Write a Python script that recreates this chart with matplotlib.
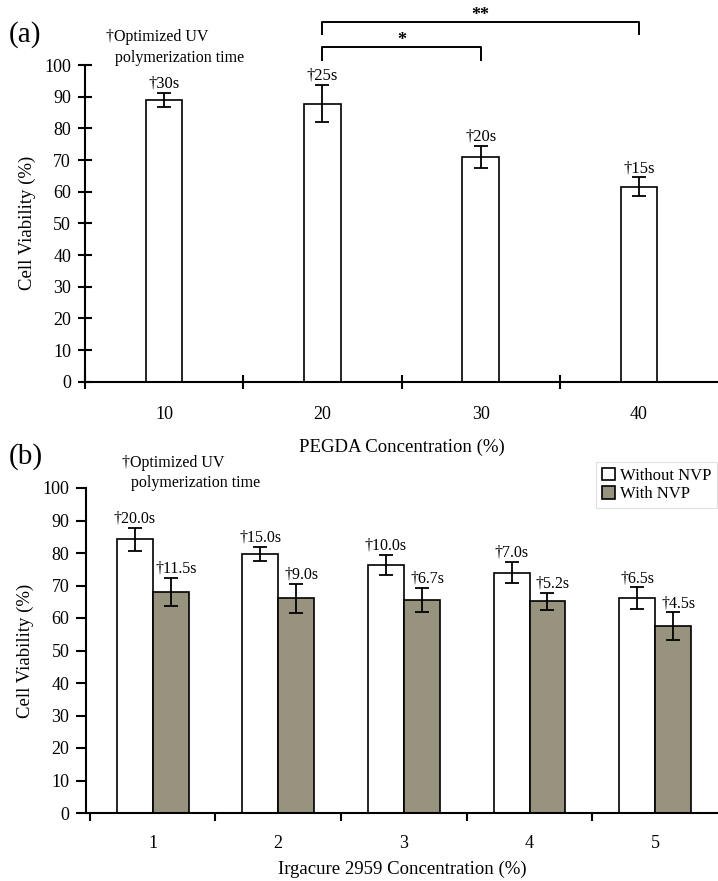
import matplotlib
matplotlib.use("Agg")
import matplotlib.pyplot as plt
from matplotlib.patches import Patch
import numpy as np

plt.rcParams['font.family'] = ['Liberation Serif', 'DejaVu Serif']

# ---------------- data ----------------
pegda_conc = ['10', '20', '30', '40']
viab_a = [88.9, 87.8, 71.0, 61.5]
err_a = [2.3, 5.9, 3.4, 3.0]
uv_a = ['†30s', '†25s', '†20s', '†15s']

irg_conc = ['1', '2', '3', '4', '5']
viab_without = [84.2, 79.7, 76.2, 74.0, 66.1]
err_without = [3.6, 2.3, 3.1, 3.3, 3.3]
viab_with = [68.0, 66.1, 65.6, 65.1, 57.4]
err_with = [4.4, 4.5, 3.7, 2.5, 4.3]
uv_without = ['†20.0s', '†15.0s', '†10.0s', '†7.0s', '†6.5s']
uv_with = ['†11.5s', '†9.0s', '†6.7s', '†5.2s', '†4.5s']

sig_pairs = [(1, 2), (1, 3)]
sig_marks = ['*', '**']
sig_levels = [(105.8, 101.5), (113.7, 109.8)]

W, H = 718, 881
fig = plt.figure(figsize=(W / 100, H / 100), dpi=100)
fig.patch.set_facecolor('white')

FS_TICK = 13
FS_LAB = 13.5
FS_ANN = 12
GRAY = '#97937e'


def px_to_fig(x, y):
    return x / W, 1 - y / H


def style_axes(ax, tdir, length):
    for s in ['top', 'right']:
        ax.spines[s].set_visible(False)
    for s in ['left', 'bottom']:
        ax.spines[s].set_linewidth(1.5)
    ax.set_ylim(0, 100)
    ax.set_yticks(np.arange(0, 101, 10))
    ax.tick_params(axis='y', direction=tdir, length=length, width=1.5,
                   labelsize=FS_TICK, pad=5)


# ---------------- panel (a) ----------------
l, b = px_to_fig(85, 381.7)
axa = fig.add_axes([l, b, 1 - l, (381.7 - 65) / H])
xa = np.arange(len(pegda_conc))
axa.bar(xa, viab_a, width=0.23, color='white', edgecolor='black', linewidth=1.2, zorder=2)
axa.errorbar(xa, viab_a, yerr=err_a, fmt='none', ecolor='black', elinewidth=1.3,
             capsize=5, capthick=1.3, zorder=3)
for xi, v, e, t in zip(xa, viab_a, err_a, uv_a):
    axa.annotate(t, (xi, v + e), xytext=(0, 1), textcoords='offset points',
                 ha='center', va='bottom', fontsize=FS_ANN)
axa.set_xlim(-0.5, len(pegda_conc) - 0.5)
style_axes(axa, 'inout', 10)
axa.set_xticks(xa)
axa.set_xticklabels(pegda_conc, fontsize=FS_TICK)
axa.tick_params(axis='x', which='major', length=0, pad=17.5)
axa.set_xticks(np.arange(-0.5, len(pegda_conc) - 0.5, 1.0), minor=True)
axa.tick_params(axis='x', which='minor', direction='inout', length=10, width=1.5)
axa.set_xlabel('PEGDA Concentration (%)', fontsize=FS_LAB, labelpad=11)
axa.set_ylabel('Cell Viability (%)', fontsize=FS_LAB, labelpad=6)

for (i, j), m, (ytop, ydrop) in zip(sig_pairs, sig_marks, sig_levels):
    axa.plot([xa[i], xa[i], xa[j], xa[j]], [ydrop, ytop, ytop, ydrop],
             color='black', lw=1.4, clip_on=False)
    axa.text((xa[i] + xa[j]) / 2, ytop - 0.6, m, ha='center', va='bottom',
             fontsize=13, fontweight='bold')

fig.text(*px_to_fig(9, 35), '(a)', fontsize=21, va='center', ha='left')
fig.text(*px_to_fig(106, 37), '†Optimized UV', fontsize=11.5, va='center', ha='left')
fig.text(*px_to_fig(115, 58), 'polymerization time', fontsize=11.5, va='center', ha='left')

# ---------------- panel (b) ----------------
l, b = px_to_fig(86, 813)
axb = fig.add_axes([l, b, 1 - l, (813 - 488) / H])
xb = np.arange(1, len(irg_conc) + 1)
w = 0.286
axb.bar(xb - w / 2, viab_without, width=w, color='white', edgecolor='black',
        linewidth=1.2, zorder=2, label='Without NVP')
axb.bar(xb + w / 2, viab_with, width=w, color=GRAY, edgecolor='black',
        linewidth=1.2, zorder=2, label='With NVP')
axb.errorbar(xb - w / 2, viab_without, yerr=err_without, fmt='none', ecolor='black',
             elinewidth=1.3, capsize=5, capthick=1.3, zorder=3)
axb.errorbar(xb + w / 2, viab_with, yerr=err_with, fmt='none', ecolor='black',
             elinewidth=1.3, capsize=5, capthick=1.3, zorder=3)
for xi, v, e, t in zip(xb - w / 2, viab_without, err_without, uv_without):
    axb.annotate(t, (xi, v + e), xytext=(0, 1), textcoords='offset points',
                 ha='center', va='bottom', fontsize=11.5)
for xi, v, e, t in zip(xb + w / 2, viab_with, err_with, uv_with):
    axb.annotate(t, (xi, v + e), xytext=(4, 1), textcoords='offset points',
                 ha='center', va='bottom', fontsize=11.5)
axb.set_xlim(0.47, len(irg_conc) + 0.5)
style_axes(axb, 'out', 7)
axb.set_xticks(xb)
axb.set_xticklabels(irg_conc, fontsize=FS_TICK)
axb.tick_params(axis='x', which='major', length=0, pad=16)
axb.set_xticks(np.arange(0.5, len(irg_conc) + 0.5, 1.0), minor=True)
axb.tick_params(axis='x', which='minor', direction='out', length=6, width=1.5)
axb.set_xlabel('Irgacure 2959 Concentration (%)', fontsize=FS_LAB, labelpad=6)
axb.set_ylabel('Cell Viability (%)', fontsize=FS_LAB, labelpad=6)

handles = [Patch(facecolor='white', edgecolor='black', linewidth=1.2, label='Without NVP'),
           Patch(facecolor=GRAY, edgecolor='black', linewidth=1.2, label='With NVP')]
leg = fig.legend(handles=handles, loc='upper right', bbox_to_anchor=px_to_fig(717, 462),
                 fontsize=FS_ANN, frameon=True, fancybox=False, handlelength=0.75,
                 handleheight=0.75, handletextpad=0.3, borderpad=0.35, labelspacing=0.15,
                 borderaxespad=0)
leg.get_frame().set_edgecolor('#d8d8d8')
leg.get_frame().set_linewidth(0.8)

fig.text(*px_to_fig(9, 457), '(b)', fontsize=21, va='center', ha='left')
fig.text(*px_to_fig(122, 463), '†Optimized UV', fontsize=11.5, va='center', ha='left')
fig.text(*px_to_fig(131, 483), 'polymerization time', fontsize=11.5, va='center', ha='left')

fig.savefig('out.png', dpi=100, facecolor='white')
